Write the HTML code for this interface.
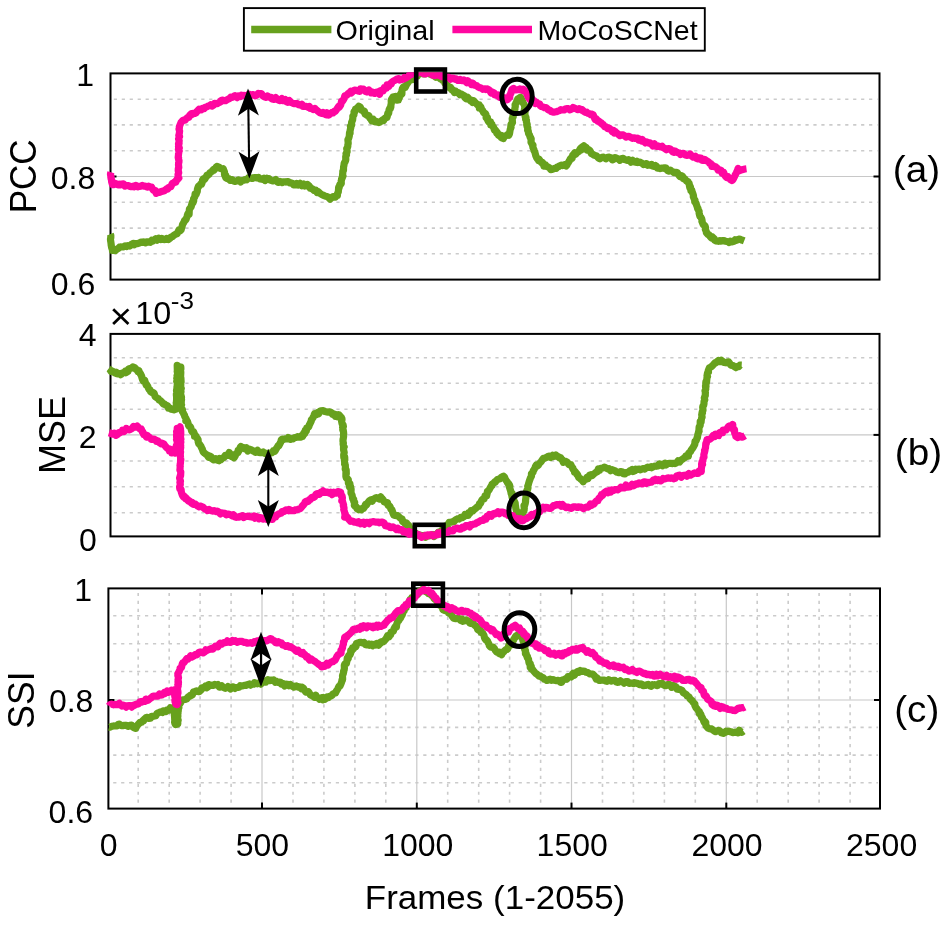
<!DOCTYPE html>
<html><head><meta charset="utf-8"><title>PCC / MSE / SSI plot</title>
<style>
html,body{margin:0;padding:0;background:#fff;}
svg{display:block;}
text{font-family:"Liberation Sans",Arial,sans-serif;fill:#000;}
</style></head>
<body>
<svg width="944" height="925" viewBox="0 0 944 925">
<rect x="0" y="0" width="944" height="925" fill="#fff"/>
<line x1="113.8" y1="99.2" x2="877.5" y2="99.2" stroke="#cbcbcb" stroke-width="1.6" stroke-dasharray="3.2 4.75"/>
<line x1="113.8" y1="124.9" x2="877.5" y2="124.9" stroke="#cbcbcb" stroke-width="1.6" stroke-dasharray="3.2 4.75"/>
<line x1="113.8" y1="150.7" x2="877.5" y2="150.7" stroke="#cbcbcb" stroke-width="1.6" stroke-dasharray="3.2 4.75"/>
<line x1="113.8" y1="202.3" x2="877.5" y2="202.3" stroke="#cbcbcb" stroke-width="1.6" stroke-dasharray="3.2 4.75"/>
<line x1="113.8" y1="228.1" x2="877.5" y2="228.1" stroke="#cbcbcb" stroke-width="1.6" stroke-dasharray="3.2 4.75"/>
<line x1="113.8" y1="253.8" x2="877.5" y2="253.8" stroke="#cbcbcb" stroke-width="1.6" stroke-dasharray="3.2 4.75"/>
<line x1="110.5" y1="176.5" x2="879.5" y2="176.5" stroke="#c8c8c8" stroke-width="1.2"/>
<line x1="113.8" y1="357.7" x2="877.5" y2="357.7" stroke="#cbcbcb" stroke-width="1.6" stroke-dasharray="3.2 4.75"/>
<line x1="113.8" y1="383.3" x2="877.5" y2="383.3" stroke="#cbcbcb" stroke-width="1.6" stroke-dasharray="3.2 4.75"/>
<line x1="113.8" y1="409.3" x2="877.5" y2="409.3" stroke="#cbcbcb" stroke-width="1.6" stroke-dasharray="3.2 4.75"/>
<line x1="113.8" y1="461.0" x2="877.5" y2="461.0" stroke="#cbcbcb" stroke-width="1.6" stroke-dasharray="3.2 4.75"/>
<line x1="113.8" y1="486.8" x2="877.5" y2="486.8" stroke="#cbcbcb" stroke-width="1.6" stroke-dasharray="3.2 4.75"/>
<line x1="113.8" y1="512.8" x2="877.5" y2="512.8" stroke="#cbcbcb" stroke-width="1.6" stroke-dasharray="3.2 4.75"/>
<line x1="110.5" y1="434.9" x2="879.5" y2="434.9" stroke="#c8c8c8" stroke-width="1.2"/>
<line x1="113.2" y1="615.8" x2="878.0" y2="615.8" stroke="#cbcbcb" stroke-width="1.6" stroke-dasharray="3.2 4.75"/>
<line x1="113.2" y1="643.7" x2="878.0" y2="643.7" stroke="#cbcbcb" stroke-width="1.6" stroke-dasharray="3.2 4.75"/>
<line x1="113.2" y1="671.5" x2="878.0" y2="671.5" stroke="#cbcbcb" stroke-width="1.6" stroke-dasharray="3.2 4.75"/>
<line x1="113.2" y1="727.4" x2="878.0" y2="727.4" stroke="#cbcbcb" stroke-width="1.6" stroke-dasharray="3.2 4.75"/>
<line x1="113.2" y1="755.1" x2="878.0" y2="755.1" stroke="#cbcbcb" stroke-width="1.6" stroke-dasharray="3.2 4.75"/>
<line x1="113.2" y1="782.8" x2="878.0" y2="782.8" stroke="#cbcbcb" stroke-width="1.6" stroke-dasharray="3.2 4.75"/>
<line x1="138.2" y1="592.9" x2="138.2" y2="803.6" stroke="#cbcbcb" stroke-width="1.6" stroke-dasharray="3.2 4.75"/>
<line x1="169.2" y1="592.9" x2="169.2" y2="803.6" stroke="#cbcbcb" stroke-width="1.6" stroke-dasharray="3.2 4.75"/>
<line x1="200.1" y1="592.9" x2="200.1" y2="803.6" stroke="#cbcbcb" stroke-width="1.6" stroke-dasharray="3.2 4.75"/>
<line x1="231.1" y1="592.9" x2="231.1" y2="803.6" stroke="#cbcbcb" stroke-width="1.6" stroke-dasharray="3.2 4.75"/>
<line x1="262.0" y1="588.4" x2="262.0" y2="808.6" stroke="#c8c8c8" stroke-width="1.2"/>
<line x1="293.0" y1="592.9" x2="293.0" y2="803.6" stroke="#cbcbcb" stroke-width="1.6" stroke-dasharray="3.2 4.75"/>
<line x1="323.9" y1="592.9" x2="323.9" y2="803.6" stroke="#cbcbcb" stroke-width="1.6" stroke-dasharray="3.2 4.75"/>
<line x1="354.9" y1="592.9" x2="354.9" y2="803.6" stroke="#cbcbcb" stroke-width="1.6" stroke-dasharray="3.2 4.75"/>
<line x1="385.8" y1="592.9" x2="385.8" y2="803.6" stroke="#cbcbcb" stroke-width="1.6" stroke-dasharray="3.2 4.75"/>
<line x1="416.8" y1="588.4" x2="416.8" y2="808.6" stroke="#c8c8c8" stroke-width="1.2"/>
<line x1="447.7" y1="592.9" x2="447.7" y2="803.6" stroke="#cbcbcb" stroke-width="1.6" stroke-dasharray="3.2 4.75"/>
<line x1="478.7" y1="592.9" x2="478.7" y2="803.6" stroke="#cbcbcb" stroke-width="1.6" stroke-dasharray="3.2 4.75"/>
<line x1="509.6" y1="592.9" x2="509.6" y2="803.6" stroke="#cbcbcb" stroke-width="1.6" stroke-dasharray="3.2 4.75"/>
<line x1="540.6" y1="592.9" x2="540.6" y2="803.6" stroke="#cbcbcb" stroke-width="1.6" stroke-dasharray="3.2 4.75"/>
<line x1="571.5" y1="588.4" x2="571.5" y2="808.6" stroke="#c8c8c8" stroke-width="1.2"/>
<line x1="602.5" y1="592.9" x2="602.5" y2="803.6" stroke="#cbcbcb" stroke-width="1.6" stroke-dasharray="3.2 4.75"/>
<line x1="633.4" y1="592.9" x2="633.4" y2="803.6" stroke="#cbcbcb" stroke-width="1.6" stroke-dasharray="3.2 4.75"/>
<line x1="664.4" y1="592.9" x2="664.4" y2="803.6" stroke="#cbcbcb" stroke-width="1.6" stroke-dasharray="3.2 4.75"/>
<line x1="695.3" y1="592.9" x2="695.3" y2="803.6" stroke="#cbcbcb" stroke-width="1.6" stroke-dasharray="3.2 4.75"/>
<line x1="726.3" y1="588.4" x2="726.3" y2="808.6" stroke="#c8c8c8" stroke-width="1.2"/>
<line x1="757.2" y1="592.9" x2="757.2" y2="803.6" stroke="#cbcbcb" stroke-width="1.6" stroke-dasharray="3.2 4.75"/>
<line x1="788.2" y1="592.9" x2="788.2" y2="803.6" stroke="#cbcbcb" stroke-width="1.6" stroke-dasharray="3.2 4.75"/>
<line x1="819.1" y1="592.9" x2="819.1" y2="803.6" stroke="#cbcbcb" stroke-width="1.6" stroke-dasharray="3.2 4.75"/>
<line x1="850.1" y1="592.9" x2="850.1" y2="803.6" stroke="#cbcbcb" stroke-width="1.6" stroke-dasharray="3.2 4.75"/>
<line x1="108.4" y1="700.0" x2="880.0" y2="700.0" stroke="#c8c8c8" stroke-width="1.2"/>
<rect x="110.5" y="73.4" width="769.0" height="206.2" fill="none" stroke="#000" stroke-width="2"/>
<line x1="110.5" y1="176.5" x2="116.5" y2="176.5" stroke="#000" stroke-width="2"/>
<line x1="873.5" y1="176.5" x2="879.5" y2="176.5" stroke="#000" stroke-width="2"/>
<rect x="110.5" y="333.9" width="769.0" height="202.5" fill="none" stroke="#000" stroke-width="2"/>
<line x1="110.5" y1="434.9" x2="116.5" y2="434.9" stroke="#000" stroke-width="2"/>
<line x1="873.5" y1="434.9" x2="879.5" y2="434.9" stroke="#000" stroke-width="2"/>
<rect x="108.4" y="588.4" width="771.6" height="220.2" fill="none" stroke="#000" stroke-width="2"/>
<line x1="108.4" y1="700.0" x2="114.4" y2="700.0" stroke="#000" stroke-width="2"/>
<line x1="874.0" y1="700.0" x2="880.0" y2="700.0" stroke="#000" stroke-width="2"/>
<line x1="262.0" y1="808.6" x2="262.0" y2="802.6" stroke="#000" stroke-width="2"/>
<line x1="262.0" y1="588.4" x2="262.0" y2="594.4" stroke="#000" stroke-width="2"/>
<line x1="416.8" y1="808.6" x2="416.8" y2="802.6" stroke="#000" stroke-width="2"/>
<line x1="416.8" y1="588.4" x2="416.8" y2="594.4" stroke="#000" stroke-width="2"/>
<line x1="571.5" y1="808.6" x2="571.5" y2="802.6" stroke="#000" stroke-width="2"/>
<line x1="571.5" y1="588.4" x2="571.5" y2="594.4" stroke="#000" stroke-width="2"/>
<line x1="726.3" y1="808.6" x2="726.3" y2="802.6" stroke="#000" stroke-width="2"/>
<line x1="726.3" y1="588.4" x2="726.3" y2="594.4" stroke="#000" stroke-width="2"/>
<defs><clipPath id="ca"><rect x="106.5" y="72.2" width="777.0" height="209.4"/></clipPath><clipPath id="cb"><rect x="106.5" y="331.9" width="777.0" height="212.5"/></clipPath><clipPath id="cc"><rect x="104.4" y="586.0" width="779.6" height="224.6"/></clipPath></defs>
<g clip-path="url(#ca)"><path d="M110.3 234.1L110.8 235.3L110.8 237.6L110.4 239.4L110.6 240.6L110.7 241.2L111.2 244.6L111.1 244.5L111.7 247.8L111.8 247.8L112.4 248.4L112.4 250.5L113.9 249.2L115.4 250.5L116.6 249.4L118.4 248.4L119.7 247.1L120.5 246.9L122.5 247.0L123.4 246.9L125.1 245.8L127.0 246.5L128.0 245.7L129.8 246.1L131.6 244.2L133.4 243.4L134.4 244.7L135.6 243.6L137.1 243.7L139.4 243.1L141.0 242.0L142.4 242.3L143.8 241.8L145.7 242.9L146.8 241.9L147.9 241.8L150.1 242.4L151.8 240.3L152.9 241.0L154.1 240.0L155.8 238.8L157.2 240.1L158.9 238.3L160.7 239.6L161.9 238.5L164.0 239.6L165.8 239.5L166.8 238.4L168.4 239.6L170.6 237.7L170.9 237.0L172.2 236.8L173.7 235.4L174.3 234.9L175.6 234.3L177.2 233.6L177.8 232.4L178.9 229.9L180.1 230.8L181.1 229.9L181.6 227.8L182.0 227.1L182.6 224.3L183.4 223.2L184.2 221.6L184.5 220.6L185.3 219.8L185.9 219.8L187.1 216.4L187.3 215.5L188.0 213.5L189.1 214.3L189.2 211.5L189.4 209.1L190.3 208.0L191.3 206.3L191.0 207.0L192.0 203.5L192.5 201.8L192.9 202.9L193.7 200.8L193.6 198.5L193.9 198.2L194.8 196.8L195.1 194.0L196.0 194.6L196.7 192.8L197.3 191.3L197.4 189.4L198.2 186.8L198.5 186.1L199.4 185.8L200.8 183.9L201.6 184.1L202.5 181.3L202.6 179.8L203.5 178.6L204.8 179.2L205.9 177.0L206.6 176.6L206.9 175.1L208.9 174.5L209.9 172.7L210.5 172.5L211.8 171.5L213.6 169.5L214.2 170.0L216.1 167.2L217.0 166.4L219.4 167.3L219.8 168.2L221.8 168.7L222.3 169.3L223.2 168.7L224.5 172.0L224.5 174.3L224.9 175.8L225.8 175.6L225.6 177.5L227.2 178.7L228.8 178.7L230.2 180.4L232.0 179.6L233.8 181.1L235.2 181.5L236.8 180.9L238.4 180.0L239.8 180.8L240.7 181.9L242.2 180.5L244.1 180.2L245.0 179.6L246.6 179.8L247.5 178.8L248.9 177.5L251.0 178.0L252.4 178.5L254.3 177.6L255.5 177.6L257.0 178.0L258.5 177.5L260.1 179.0L262.0 179.3L263.8 178.2L265.1 180.5L266.8 178.4L267.5 179.1L268.9 178.6L270.4 180.1L272.7 181.0L273.6 180.8L275.7 179.6L277.4 182.1L278.3 182.4L280.0 181.4L282.2 182.6L282.9 181.8L284.8 181.8L286.0 182.1L288.1 181.6L289.5 182.8L290.5 182.8L292.7 183.4L293.6 184.9L295.9 185.0L296.8 183.4L298.3 184.9L300.1 183.4L301.8 185.6L303.7 184.1L304.6 186.0L306.6 185.6L307.5 184.6L309.5 186.3L310.3 188.3L312.2 188.7L313.1 189.5L314.2 190.5L315.8 190.1L317.1 192.6L317.9 191.5L319.4 192.8L320.1 193.5L321.4 194.3L323.0 195.2L324.8 195.9L325.8 196.2L327.0 196.5L328.2 197.2L330.0 199.2L330.9 198.3L333.0 196.7L334.3 196.8L335.3 197.2L336.6 195.6L337.4 195.5L337.5 193.7L338.3 191.8L338.5 189.6L338.6 187.6L339.1 187.8L339.7 184.9L340.0 185.3L341.3 183.4L341.2 180.9L341.5 180.1L341.6 178.6L342.0 178.5L343.0 176.0L342.5 175.7L342.8 172.6L342.8 171.3L343.5 170.2L343.5 168.7L343.6 166.7L343.9 165.6L344.2 163.2L344.7 162.3L345.2 161.6L345.6 160.5L345.8 159.6L345.7 156.7L346.5 154.8L346.4 154.7L346.0 153.7L347.1 151.7L347.1 150.8L346.7 148.6L347.3 147.9L347.8 146.4L347.8 145.2L348.2 143.2L347.9 140.0L348.0 139.4L348.3 139.2L349.0 137.3L349.3 136.0L349.5 132.8L350.1 133.3L350.0 131.3L350.5 128.7L350.8 127.7L350.4 126.3L351.3 124.7L351.6 125.3L351.6 122.3L351.9 121.7L352.6 120.0L352.9 117.2L352.8 116.2L353.9 114.8L354.1 112.6L354.0 111.8L355.1 111.5L355.5 109.0L357.1 108.3L358.8 106.2L360.4 107.3L361.6 110.1L361.8 109.7L363.8 111.9L364.4 111.3L365.1 114.2L366.1 114.4L367.0 115.4L368.8 115.6L369.6 117.7L371.0 119.2L371.7 120.7L373.3 119.3L374.1 121.5L375.9 122.0L377.2 121.7L378.9 122.6L380.1 122.0L382.5 120.0L383.6 120.6L384.6 118.6L385.1 118.0L386.9 117.6L387.3 116.2L387.7 113.7L388.0 114.3L388.7 113.0L389.1 109.8L389.9 108.1L390.3 108.6L390.9 106.8L390.8 105.7L391.3 103.3L391.2 100.6L391.3 100.3L391.5 99.4L392.9 97.1L395.4 96.5L396.0 98.1L396.8 100.2L398.5 100.0L398.7 98.8L399.2 97.7L399.4 95.7L400.0 96.4L400.9 93.2L401.9 93.8L402.0 90.2L402.4 88.7L403.1 87.3L404.0 86.6L405.3 87.2L406.4 84.8L407.0 84.0L408.2 82.2L409.1 80.8L411.3 79.1L412.4 79.6L414.3 77.8L414.7 76.7L415.8 76.2L417.4 76.1L418.4 72.9L418.5 73.5L420.9 72.9L422.1 71.6L423.4 74.0L425.3 73.8L427.0 72.2L427.6 71.9L429.4 73.8L431.3 74.5L432.4 75.1L433.6 75.1L434.5 76.2L436.0 77.3L437.7 76.4L438.4 77.0L440.2 78.8L440.9 77.9L442.3 80.3L443.1 80.4L444.3 81.0L444.9 83.2L446.5 84.8L447.4 85.4L447.9 85.8L449.9 88.0L450.4 87.2L451.8 89.9L452.9 89.8L454.4 92.5L455.3 90.9L456.8 92.6L458.5 92.7L459.9 94.7L461.0 94.0L462.8 95.0L464.1 95.5L464.8 97.5L466.2 98.7L467.8 97.4L468.8 98.7L470.5 100.9L471.3 100.2L472.6 102.4L473.8 100.8L475.0 102.4L477.1 104.4L478.2 105.5L479.3 105.0L479.3 107.9L480.8 106.8L481.5 108.9L482.1 110.1L482.7 110.5L483.6 112.7L485.2 113.3L486.0 114.8L486.1 117.6L487.4 117.8L487.3 119.2L488.4 121.6L489.0 121.4L490.5 121.7L490.8 125.0L491.9 124.2L491.9 125.5L493.6 127.3L494.4 130.1L494.9 129.6L496.5 131.6L496.7 133.0L497.7 132.9L498.4 135.3L500.2 136.1L501.2 135.6L501.4 137.9L503.5 138.5L504.3 136.0L505.7 136.0L507.6 134.5L508.8 135.3L509.5 133.8L509.9 131.1L510.2 129.6L511.0 127.4L510.7 127.7L511.0 124.5L511.1 124.3L511.7 123.9L512.5 122.5L512.2 118.7L512.3 118.3L513.2 116.7L513.0 115.2L513.7 114.5L514.2 113.5L514.4 110.3L514.9 109.4L514.9 108.2L515.3 106.4L515.1 105.1L515.3 105.4L516.1 102.5L516.7 102.6L517.7 99.0L518.8 98.4L520.5 97.2L521.5 99.3L522.5 101.2L522.3 101.2L523.0 102.6L524.5 105.2L524.6 106.2L524.8 107.8L524.3 110.2L525.2 109.9L525.0 112.7L524.8 113.6L524.9 114.6L525.3 117.1L526.0 117.5L525.6 119.3L526.5 120.4L526.4 121.9L527.2 124.3L526.7 124.6L527.3 127.2L527.8 127.5L527.6 130.5L528.2 130.8L528.6 133.8L529.0 134.2L529.5 135.1L530.4 138.0L530.4 137.2L531.2 138.8L531.0 142.2L531.9 143.6L532.4 145.4L533.0 145.1L532.9 147.5L534.0 149.8L533.9 150.5L534.6 151.5L534.9 152.3L535.7 155.4L535.7 155.6L536.9 158.2L536.7 157.4L538.5 160.6L539.0 159.2L540.4 161.1L541.4 162.7L542.3 162.4L543.3 163.6L543.9 166.2L545.7 165.1L546.4 166.4L548.0 167.0L548.9 167.3L550.9 169.7L551.5 169.5L553.6 168.8L555.0 168.1L556.2 168.3L557.6 166.7L558.7 166.5L560.1 165.7L561.5 165.1L562.5 165.6L564.4 164.6L566.1 166.0L567.2 164.5L567.9 163.0L568.4 162.5L569.1 161.3L570.3 159.0L571.2 157.8L572.1 158.3L572.7 155.1L573.4 154.7L574.7 152.8L575.7 154.1L576.8 152.8L577.4 152.3L578.8 151.4L580.4 148.5L581.5 149.6L581.9 147.2L583.8 145.8L585.1 146.9L586.2 147.3L587.0 150.1L587.9 149.2L589.3 150.1L590.0 150.6L591.3 153.5L593.0 154.4L593.6 155.0L594.7 155.3L596.4 155.9L597.8 157.3L598.9 158.3L599.9 158.8L601.9 157.4L603.6 157.2L605.2 158.2L606.0 158.8L607.6 157.4L609.4 157.2L611.0 157.9L612.3 159.9L613.8 159.2L615.1 157.6L616.3 158.1L618.5 159.0L619.9 160.3L621.1 158.7L623.2 158.3L623.9 159.4L625.4 159.6L626.9 160.4L628.7 159.7L630.1 160.6L631.0 162.1L632.5 160.3L633.8 161.8L636.0 162.4L636.9 161.3L637.9 162.6L639.8 162.2L641.3 162.8L643.0 163.9L643.7 164.6L644.9 164.0L646.6 163.6L647.7 165.3L649.0 165.1L651.4 164.4L652.0 165.9L653.7 166.4L655.4 165.5L656.3 166.2L657.4 168.1L659.6 168.0L660.2 168.6L662.4 168.0L663.8 168.3L664.6 167.8L666.0 168.1L667.4 170.4L669.1 171.2L670.4 170.2L671.6 171.1L673.2 171.9L674.0 172.7L676.0 172.3L677.3 172.5L677.9 173.8L679.8 176.4L681.1 175.6L682.6 176.3L683.2 178.6L684.8 178.9L685.9 180.5L686.8 181.0L688.2 181.9L688.5 183.0L689.2 183.3L689.4 185.6L689.8 187.7L690.4 186.8L690.9 190.6L691.7 190.0L691.9 191.1L693.0 194.0L693.5 195.7L693.3 196.7L694.1 198.7L695.0 200.3L694.7 201.7L696.0 203.3L695.6 202.7L696.1 203.7L697.3 207.1L697.6 208.5L698.0 208.5L698.0 209.4L699.1 211.1L699.1 213.0L699.3 214.0L700.0 216.6L700.6 216.9L701.7 218.8L702.1 220.5L701.9 221.4L702.9 223.7L703.4 224.9L704.1 225.1L705.1 226.1L705.6 227.7L705.3 229.2L706.7 232.6L706.5 232.8L708.1 234.6L709.0 234.8L710.3 236.7L711.4 238.0L712.6 237.1L714.2 238.8L714.7 240.2L716.2 240.9L718.4 241.3L719.9 240.6L721.2 241.1L723.3 240.6L724.8 240.9L725.6 241.3L727.9 241.7L728.9 242.5L730.3 241.2L732.2 241.8L734.0 241.3L735.1 239.7L736.5 240.3L738.6 239.2L739.5 239.0L741.6 240.0L742.4 240.2L744.2 240.9" fill="none" stroke="#67a11d" stroke-width="7.2" stroke-linejoin="round" stroke-linecap="butt"/><path d="M110.9 172.3L110.4 174.1L111.1 177.0L110.8 176.8L111.1 178.8L111.6 180.0L111.6 181.6L112.5 184.6L113.9 184.7L115.4 183.5L117.9 184.8L119.2 184.1L120.2 184.9L121.6 184.1L123.5 183.9L125.0 186.1L126.9 185.5L128.4 185.6L129.4 186.2L131.3 186.7L133.3 186.1L134.5 186.8L135.9 185.4L137.8 186.9L139.4 186.4L141.0 186.2L142.3 185.5L143.6 186.2L144.9 186.0L147.1 187.1L148.5 186.2L149.9 187.0L151.6 187.2L152.9 189.7L153.5 190.2L155.3 190.6L156.2 193.3L157.4 191.9L159.3 192.3L161.8 191.3L162.7 191.2L164.3 190.8L165.4 189.8L166.9 188.7L167.7 189.0L168.6 187.6L170.0 187.0L170.9 186.6L172.3 183.3L173.3 183.2L174.2 182.3L175.8 182.1L176.5 179.8L177.2 179.8L178.8 178.1L178.0 177.4L178.2 174.5L178.0 174.5L178.7 172.7L178.4 171.2L178.2 170.8L178.3 168.6L178.8 167.6L178.5 164.9L178.6 163.0L178.9 162.2L179.0 160.6L178.5 159.2L178.6 157.6L178.2 157.6L178.5 154.9L178.5 154.1L178.7 153.2L178.9 151.0L179.2 150.9L178.4 149.4L179.3 147.9L178.5 146.6L179.1 143.0L178.5 144.1L179.2 140.8L178.6 139.1L178.8 139.3L179.0 136.3L179.6 136.5L178.8 135.4L179.3 133.6L179.4 132.5L179.6 131.0L179.0 129.1L179.4 127.9L179.3 126.8L180.4 124.0L181.0 122.5L182.2 121.2L183.0 120.2L184.0 120.0L185.2 120.1L185.8 119.1L187.5 117.5L188.9 117.4L189.7 115.4L191.5 113.6L192.4 114.2L192.9 113.3L194.9 113.5L195.9 112.9L197.4 111.0L199.1 109.2L200.3 110.0L201.2 110.0L202.6 108.3L204.1 108.6L205.1 107.2L206.6 107.0L208.4 105.9L209.7 105.6L210.7 104.8L212.0 106.1L213.5 105.2L214.5 103.4L215.8 103.6L217.5 103.6L218.2 103.0L220.4 102.0L220.8 100.9L222.1 100.1L224.4 100.7L225.5 100.7L227.0 99.7L228.1 99.2L229.5 98.7L230.8 97.2L232.3 97.5L234.0 96.2L234.9 95.7L237.1 97.7L238.5 96.0L240.2 96.7L241.5 95.2L242.8 95.5L244.4 95.4L246.2 96.5L247.2 95.4L248.7 94.1L251.1 95.2L252.7 94.7L253.3 94.5L255.5 95.8L257.5 94.5L258.4 93.4L260.3 94.0L261.4 93.7L262.9 95.8L264.6 96.8L266.0 97.3L267.5 95.9L269.5 97.2L271.1 97.3L271.9 99.0L274.2 99.4L275.7 97.6L277.2 99.4L278.6 100.2L279.9 100.7L281.9 98.6L282.7 100.6L285.1 99.5L286.2 101.6L287.6 102.3L289.4 100.6L290.9 102.4L292.5 103.0L293.7 103.7L295.5 103.7L297.3 103.5L298.6 104.8L300.8 105.2L301.9 104.3L302.9 106.5L305.2 106.5L306.3 106.3L308.3 107.4L309.3 106.5L310.4 108.5L311.7 108.5L313.2 109.5L314.8 108.4L315.3 108.9L317.1 110.4L318.9 111.9L319.5 112.5L321.7 113.3L322.9 112.4L324.6 114.1L325.9 114.7L327.0 112.8L328.7 115.0L329.7 114.3L331.9 112.4L333.1 112.9L334.4 111.1L335.1 111.4L336.6 109.5L336.9 109.2L338.5 106.5L339.3 107.1L340.6 105.0L341.0 103.8L341.5 101.4L342.4 101.4L343.4 99.8L344.2 98.3L344.8 95.7L346.5 95.3L346.8 95.2L348.6 93.1L349.6 92.8L350.7 91.2L351.3 93.0L353.4 90.9L354.6 90.1L356.4 90.3L358.1 91.0L359.5 91.4L360.5 88.8L362.0 89.0L363.4 89.0L365.4 91.4L366.9 92.0L368.9 90.0L370.1 91.2L371.1 92.9L372.8 92.2L374.7 93.4L376.2 92.2L377.5 91.9L379.6 94.3L380.0 90.7L381.2 90.5L383.1 90.9L384.3 87.6L385.4 88.2L386.5 88.1L387.1 85.0L389.0 86.1L390.2 83.6L391.3 83.9L392.0 82.1L393.4 81.0L394.9 80.4L395.9 79.7L397.6 78.8L398.9 78.6L399.7 80.0L401.5 79.6L403.7 79.0L404.4 77.4L405.9 77.9L408.2 76.5L409.3 75.1L411.1 74.7L412.3 73.5L413.2 72.9L415.1 73.8L415.9 74.3L417.4 72.7L418.6 72.0L420.9 72.2L421.8 72.6L423.5 73.7L424.9 74.0L426.4 73.8L428.6 72.0L430.0 72.2L431.2 72.5L432.7 75.1L434.8 75.5L435.2 74.4L437.5 74.3L438.7 75.4L440.4 75.2L441.6 76.6L442.5 76.0L444.8 77.6L445.7 77.6L448.1 77.3L449.3 77.3L450.5 79.2L452.4 78.0L453.2 78.0L455.2 79.4L456.2 78.9L458.0 80.5L459.6 80.5L460.4 79.5L462.4 80.7L463.8 80.0L465.3 81.1L466.7 82.7L467.8 80.8L469.5 82.6L470.8 82.5L471.4 84.5L472.9 83.3L474.2 85.0L475.1 85.3L476.8 85.8L477.8 86.8L479.8 87.8L480.6 87.9L482.0 88.5L482.9 89.3L485.2 88.9L486.0 89.6L487.4 88.9L489.2 90.1L489.7 90.4L491.0 93.0L492.1 91.9L494.1 92.9L494.7 94.8L496.6 95.4L498.0 94.9L499.5 97.1L499.9 96.2L501.7 97.9L502.8 97.5L504.6 97.8L506.6 99.9L507.8 99.4L509.1 96.9L509.7 97.5L509.9 94.8L510.9 93.4L510.9 92.8L511.8 89.6L513.7 88.4L515.6 90.0L517.6 89.7L519.3 89.4L520.0 88.9L522.5 90.3L523.2 89.3L524.6 90.3L525.5 90.7L526.4 93.0L526.7 93.7L528.3 97.1L529.0 98.3L530.2 99.9L531.7 98.5L532.8 100.0L534.2 100.9L535.4 103.4L536.8 102.5L538.0 103.7L539.7 104.1L540.4 105.9L541.5 106.5L543.7 107.1L544.4 107.7L546.0 107.7L546.9 108.4L548.4 109.9L549.8 110.2L551.2 111.5L553.7 112.2L554.9 112.0L556.1 111.8L557.9 111.1L559.6 110.6L560.9 109.6L562.3 110.0L564.0 110.0L565.2 109.1L567.6 108.5L568.9 108.9L570.1 109.9L571.7 109.1L573.1 107.5L575.4 108.6L576.1 108.7L578.0 109.7L579.2 108.6L581.7 110.1L582.2 109.7L583.7 111.3L585.3 112.4L586.8 112.2L588.1 113.5L589.4 113.5L590.8 114.7L592.1 114.2L593.2 114.9L594.3 117.5L595.1 119.5L596.4 119.0L597.8 121.2L598.7 121.0L599.8 122.2L601.2 122.6L602.0 124.2L603.2 124.5L604.7 126.7L605.6 126.5L606.4 127.0L607.6 128.6L609.2 128.2L610.9 129.5L612.1 131.5L613.6 130.5L614.3 133.1L615.2 131.5L617.1 133.3L618.8 134.7L620.0 135.7L621.5 134.8L623.2 134.9L624.5 135.8L626.0 137.1L627.9 136.4L628.8 136.4L630.7 137.2L632.4 138.4L634.4 137.8L635.4 138.5L637.5 138.2L638.4 139.9L639.3 139.1L641.5 140.9L642.3 139.6L644.1 141.6L645.3 142.9L646.7 141.9L647.3 142.1L649.0 143.1L650.0 142.8L651.7 144.4L652.8 145.9L654.4 143.9L655.5 146.3L656.9 146.5L658.2 145.9L660.6 147.0L662.0 146.3L663.3 147.7L664.7 148.3L666.2 149.7L667.6 148.7L668.4 148.6L670.4 149.0L671.0 149.7L672.7 151.9L674.1 152.4L674.8 150.9L676.9 152.2L678.1 152.8L679.1 152.8L680.6 154.6L682.6 153.3L684.0 153.6L685.2 155.0L687.3 155.4L688.7 155.0L690.0 154.0L692.3 156.6L693.2 157.2L695.3 156.2L696.6 158.4L697.9 158.9L699.0 157.9L700.9 158.0L701.8 160.2L703.4 160.5L704.5 159.4L705.9 160.3L707.8 161.5L708.6 161.9L709.8 163.5L710.9 163.6L711.8 166.4L713.3 165.7L714.4 166.6L715.7 166.8L717.4 168.4L718.1 170.1L719.3 169.8L721.3 170.4L722.1 173.2L723.7 172.5L724.5 174.9L725.7 176.5L726.8 177.5L728.1 176.8L729.0 177.8L730.2 179.4L731.9 180.5L732.9 179.8L733.7 178.1L734.6 176.3L734.9 175.7L735.3 174.7L736.3 172.9L737.4 170.6L738.1 168.5L739.8 170.5L741.8 169.9L743.1 169.4L744.9 169.0L746.5 168.8" fill="none" stroke="#ff06a0" stroke-width="7.2" stroke-linejoin="round" stroke-linecap="butt"/></g>
<g clip-path="url(#cb)"><path d="M108.6 368.6L109.9 369.6L111.1 371.4L112.5 371.2L114.5 372.7L115.9 373.4L116.4 372.3L117.7 373.8L119.7 373.5L120.8 374.7L122.5 373.0L124.0 372.6L125.1 371.4L125.9 372.7L127.9 371.5L128.6 368.9L130.2 368.4L131.8 368.0L132.9 367.0L134.7 367.6L136.0 369.5L137.0 369.6L137.9 371.6L138.9 370.7L140.2 374.0L140.4 373.4L141.7 376.2L141.6 376.6L142.4 379.3L143.3 381.0L144.6 380.2L145.3 382.3L146.1 384.8L146.4 384.2L147.8 386.4L148.5 388.4L149.3 389.9L150.2 390.0L150.6 391.8L151.9 392.4L153.4 392.6L154.2 393.5L155.1 396.6L155.8 397.1L157.7 398.4L158.4 398.5L159.0 400.0L160.6 400.7L161.6 401.7L163.4 404.0L164.2 403.8L165.9 405.2L167.7 405.9L168.4 408.2L169.6 407.9L171.2 409.2L172.9 409.6L173.9 409.9L176.6 408.9L176.8 408.4L176.2 405.6L176.5 404.0L176.2 402.8L176.4 402.4L176.6 399.5L176.6 399.0L176.6 396.8L176.4 395.0L177.3 395.5L176.4 394.0L177.4 392.2L176.5 390.6L176.9 388.4L177.0 386.5L177.5 386.7L177.2 386.0L177.3 382.9L176.9 381.1L176.7 381.4L177.6 378.7L176.9 378.2L177.6 377.5L177.0 375.7L177.7 374.2L177.2 371.3L177.7 370.3L177.3 369.5L177.3 368.8L177.2 365.3L179.1 366.8L180.8 367.0L180.9 369.1L180.5 369.3L180.2 370.2L180.7 371.1L180.8 372.7L180.6 376.2L180.2 375.2L180.6 377.0L180.9 378.0L181.1 381.6L181.1 381.9L180.6 383.9L180.8 384.7L180.7 386.2L181.0 388.6L181.3 388.3L180.7 390.4L181.0 391.6L180.6 392.3L180.8 394.7L181.5 397.3L181.4 398.9L181.5 399.4L181.4 399.4L181.3 402.2L180.9 403.5L181.6 404.7L181.3 405.6L181.0 408.6L180.7 408.2L182.4 409.4L182.3 411.4L183.2 412.7L183.8 414.1L184.5 415.2L184.6 416.2L186.0 418.6L185.8 420.7L186.6 420.0L187.6 421.8L188.2 423.8L188.5 425.2L189.1 426.3L190.2 426.5L190.8 427.8L191.7 431.1L192.6 432.1L193.6 431.8L194.7 434.7L194.6 436.3L195.7 435.8L197.0 438.2L197.4 438.5L198.1 439.6L198.2 441.8L198.7 443.7L199.6 444.3L200.8 446.0L201.6 447.9L202.3 449.1L203.0 451.3L203.4 452.1L204.7 453.3L206.2 454.5L206.7 454.5L208.5 457.1L209.6 455.9L211.0 456.6L212.5 459.0L213.5 459.9L215.6 458.7L216.7 459.8L218.9 460.7L219.5 458.4L220.9 459.6L222.4 458.1L224.0 457.6L225.2 455.3L226.8 455.5L227.8 455.4L229.2 452.4L230.0 453.6L231.6 456.4L233.3 455.0L234.1 457.9L235.4 455.5L236.1 453.7L237.3 453.0L238.2 452.3L238.2 450.3L239.2 450.5L240.4 447.0L240.9 446.5L242.5 447.6L243.7 447.6L244.6 448.7L246.3 447.8L247.8 450.9L248.8 449.0L251.0 449.6L252.1 450.5L253.6 451.0L255.4 452.3L257.5 450.2L258.6 452.4L260.5 452.7L261.9 452.7L263.2 452.0L265.3 453.7L267.1 453.3L268.1 453.6L270.2 453.1L271.7 452.8L272.9 451.9L273.5 450.6L275.0 451.2L276.4 448.5L277.3 447.1L278.3 445.5L278.7 446.0L280.0 443.5L280.9 441.8L281.3 439.8L282.3 439.0L284.3 439.3L286.1 438.5L287.6 438.9L288.3 437.5L290.3 439.4L291.7 438.5L293.2 438.8L294.4 437.8L296.8 437.2L297.6 436.6L299.0 437.2L301.1 437.1L301.6 435.7L302.7 436.2L303.6 433.2L304.5 433.9L305.3 430.3L306.3 431.1L306.7 427.9L307.4 427.7L308.8 426.7L309.5 424.4L309.6 424.5L310.6 422.4L311.3 420.9L311.3 419.9L312.0 419.2L313.0 417.6L313.9 415.7L314.5 413.8L316.3 414.6L317.7 412.6L318.7 413.6L319.8 411.3L320.9 410.8L323.3 410.6L325.0 411.5L326.4 411.9L328.2 412.1L329.6 411.9L331.1 412.4L332.4 414.4L333.8 413.9L335.2 416.3L336.3 414.8L337.8 416.8L338.8 414.7L340.6 416.7L341.3 417.4L341.9 418.6L342.0 419.7L341.6 421.3L342.1 423.8L343.0 424.5L343.4 426.4L342.6 427.3L343.3 430.6L342.8 429.7L343.5 431.7L343.7 433.8L343.4 434.8L343.6 436.5L343.2 439.0L343.0 440.0L343.0 441.2L343.4 443.2L343.1 443.8L343.5 446.1L344.1 446.8L343.5 447.2L343.5 449.1L343.6 449.9L344.2 452.5L343.7 454.8L343.7 455.1L343.8 457.3L344.7 457.2L344.8 460.1L344.4 460.3L344.8 463.2L344.6 464.1L345.3 465.0L345.4 467.6L345.2 469.0L345.5 470.2L346.2 470.1L346.3 473.7L345.9 472.6L345.9 476.5L346.2 477.7L346.8 478.6L347.2 478.5L348.3 479.7L348.4 483.2L349.2 484.5L349.9 483.6L349.6 486.9L350.5 486.3L350.8 488.2L351.1 489.3L351.0 493.0L351.6 494.1L351.8 494.5L352.2 495.7L352.5 497.8L352.9 499.3L353.6 499.1L353.8 501.5L354.7 502.5L354.3 505.5L355.4 506.3L355.1 506.3L356.2 506.8L357.1 508.8L358.7 509.8L359.8 509.2L361.2 509.8L362.2 508.4L363.5 508.4L364.8 506.5L365.5 504.4L366.6 504.9L367.9 502.5L369.3 500.9L371.3 499.7L372.3 501.1L373.2 499.4L375.1 498.2L376.6 497.6L379.0 499.0L380.7 496.8L381.9 498.4L383.2 499.9L384.2 501.9L385.2 502.2L387.5 502.5L388.0 505.1L388.3 505.4L389.6 506.0L390.3 507.3L390.9 509.1L391.8 509.6L392.5 511.5L392.9 512.9L393.7 515.0L395.2 515.4L396.6 515.6L397.7 515.7L399.8 517.6L400.7 518.5L402.1 518.9L402.6 521.5L404.0 522.2L405.4 524.0L406.6 523.0L407.2 526.2L408.8 525.5L409.3 527.0L410.4 528.5L412.2 530.1L413.1 530.0L414.2 533.5L415.8 533.2L416.8 535.2L418.3 534.6L419.8 535.5L421.2 535.4L422.7 536.0L424.3 535.4L425.7 537.2L427.1 535.9L429.4 535.8L430.6 535.4L432.7 534.7L434.1 536.4L435.2 534.6L437.3 534.3L438.4 532.1L439.9 532.2L441.3 530.8L442.0 530.6L443.5 528.6L444.1 528.0L445.7 525.9L446.8 526.1L447.7 524.9L449.1 522.4L451.1 522.2L452.2 521.7L454.1 521.7L454.6 520.5L456.4 519.4L458.2 518.5L459.3 519.0L460.7 517.4L462.1 517.7L463.7 516.9L464.9 514.5L466.6 515.3L468.1 515.3L468.6 512.9L469.8 513.5L471.0 510.6L472.9 510.9L473.4 510.2L475.3 508.7L475.8 508.3L477.1 506.9L478.7 506.4L479.5 503.5L479.9 503.3L480.5 503.4L481.7 500.4L482.6 499.2L484.1 498.9L484.7 497.4L485.0 495.8L486.6 495.8L487.3 493.0L487.4 491.2L488.5 490.7L489.2 489.7L490.1 488.1L491.1 486.3L491.9 485.9L492.0 484.2L493.5 483.4L494.5 482.0L495.2 482.2L496.1 480.8L497.6 479.4L498.3 479.2L499.9 478.8L501.2 477.4L503.5 476.1L504.6 477.3L505.2 478.7L506.4 480.9L507.1 481.8L507.8 483.4L508.3 483.3L509.3 484.6L509.9 486.2L509.5 487.4L510.7 491.0L510.8 491.7L511.2 493.8L512.1 493.3L511.9 496.1L512.3 497.9L512.9 497.8L513.7 499.4L514.0 500.4L514.8 502.2L515.2 503.2L515.5 506.8L515.5 505.7L515.9 508.7L516.2 509.9L516.5 511.1L518.0 512.3L518.8 512.7L519.8 514.0L520.7 517.6L521.6 515.1L521.8 513.4L523.1 512.5L524.1 510.1L523.9 510.7L524.3 508.4L524.0 505.9L524.4 506.4L525.3 503.2L525.6 501.2L525.5 502.2L525.5 500.7L526.0 496.9L526.0 496.5L526.1 495.8L526.3 494.5L526.6 491.1L527.2 489.7L527.5 490.0L528.0 487.7L527.7 486.3L528.2 485.2L528.6 483.5L529.2 481.5L529.9 479.4L529.8 479.9L530.3 478.2L531.5 476.0L531.4 473.7L532.8 472.5L533.0 472.3L533.3 470.8L534.0 469.7L535.0 468.0L535.3 466.8L536.3 465.0L537.3 465.9L538.5 464.9L539.0 463.9L540.4 462.4L541.5 461.1L542.1 460.2L543.4 458.4L544.6 458.2L546.5 457.4L548.2 456.3L549.3 456.2L550.8 457.5L552.5 455.4L553.5 456.6L555.8 455.0L556.9 456.5L558.3 456.5L559.4 457.8L560.6 457.6L561.8 459.6L562.4 459.7L563.3 462.3L565.1 461.2L566.2 461.6L567.4 462.3L568.9 464.7L570.9 464.7L571.1 465.2L572.2 467.5L572.9 468.1L573.1 469.3L574.5 471.0L574.5 472.1L575.5 471.9L576.9 474.5L577.5 474.4L578.7 477.6L579.9 478.2L581.0 479.5L581.9 479.7L583.2 481.7L584.4 479.7L585.7 479.5L586.8 477.6L588.0 478.5L588.4 477.8L589.5 475.3L590.9 474.6L592.1 475.5L593.6 474.1L594.6 473.4L596.2 472.2L597.6 471.7L598.3 468.9L599.8 470.0L600.8 468.4L602.5 468.1L603.1 467.7L604.5 467.1L606.8 468.4L608.0 468.9L609.2 468.7L610.6 470.7L612.3 469.7L613.2 470.1L615.2 470.8L616.6 472.1L617.4 472.0L618.8 472.7L620.3 471.5L622.6 472.1L623.2 473.7L625.0 474.0L626.2 472.6L628.2 472.2L629.7 470.9L630.9 470.4L632.1 469.6L633.1 471.6L634.8 470.8L636.0 469.2L637.3 469.4L639.5 469.1L640.4 469.9L642.4 468.9L642.9 468.5L644.7 469.1L646.0 468.0L647.7 467.0L649.0 467.5L650.9 466.7L651.7 467.7L652.8 467.1L654.9 466.1L656.1 466.3L658.0 466.0L659.3 463.9L660.3 464.0L662.4 465.8L663.0 464.8L664.9 463.2L666.1 464.9L667.8 463.5L669.4 463.4L670.7 463.3L672.6 463.6L674.0 463.3L675.0 463.6L676.9 462.6L678.0 460.8L679.6 461.9L681.2 459.9L681.9 459.7L684.0 458.1L685.2 457.4L685.8 456.0L686.7 455.7L688.4 456.1L688.6 453.2L690.3 451.8L690.6 451.3L691.4 449.7L692.3 448.6L693.4 447.0L693.2 447.3L694.0 445.7L694.8 444.2L695.0 441.2L696.1 440.7L696.4 439.9L697.2 437.5L697.4 437.8L697.8 434.7L698.3 433.2L698.7 431.2L699.1 431.1L698.9 430.6L699.1 427.4L699.2 426.7L700.2 425.6L700.2 424.5L700.2 421.7L701.1 422.0L701.3 419.8L701.7 417.6L702.1 417.1L701.7 414.7L702.4 413.1L702.0 413.0L702.6 410.7L703.0 410.2L702.7 407.3L702.9 406.0L703.6 405.7L704.0 403.5L704.0 402.0L704.1 401.3L704.8 399.8L704.3 397.9L705.0 396.0L705.3 395.6L705.3 393.9L705.4 392.6L705.0 390.7L705.8 389.0L705.5 386.1L706.0 386.6L705.8 383.5L705.9 381.8L706.5 382.6L706.8 379.5L707.0 377.3L707.5 376.5L707.0 375.9L707.4 373.5L707.7 372.5L708.5 372.0L708.3 370.6L709.3 367.9L710.8 367.0L711.5 366.5L712.3 365.9L713.2 364.9L714.8 363.0L715.4 363.2L716.7 362.0L718.5 360.4L720.1 361.6L721.4 360.3L722.7 361.3L723.7 362.5L725.9 362.8L727.2 362.0L728.6 361.8L729.4 362.9L730.8 365.2L732.4 365.5L733.4 365.8L734.8 366.9L735.9 367.7L737.6 366.4L738.7 366.6L740.0 365.1L741.7 365.2" fill="none" stroke="#67a11d" stroke-width="7.2" stroke-linejoin="round" stroke-linecap="butt"/><path d="M108.9 432.7L110.8 433.3L112.3 434.2L113.6 434.1L114.4 433.2L115.9 435.3L117.9 434.1L118.7 432.7L119.9 432.8L122.1 431.3L122.4 430.3L124.0 431.6L125.7 429.8L126.3 428.4L127.8 429.7L129.5 429.8L131.3 428.8L132.2 428.4L133.5 426.3L135.7 427.1L137.1 426.1L138.6 427.6L140.1 429.0L141.2 428.9L141.7 430.1L142.6 432.6L142.7 431.7L143.6 434.5L144.6 434.3L146.4 436.9L147.3 435.5L149.1 437.4L149.6 437.4L151.5 439.4L152.7 439.4L153.8 439.0L155.8 440.1L156.4 441.3L157.8 440.9L159.5 442.6L161.0 443.8L162.2 443.1L163.8 443.9L164.9 445.7L166.5 447.5L167.2 448.2L168.8 448.7L169.3 450.8L170.9 449.6L171.7 452.9L172.8 452.3L175.1 453.1L176.6 452.6L176.1 449.5L177.1 450.0L176.1 446.6L176.4 447.5L176.4 445.4L177.2 443.9L177.2 441.5L176.5 439.5L177.1 438.3L177.4 438.4L176.6 437.3L176.6 435.1L176.6 434.4L177.5 433.3L176.6 431.7L177.2 430.2L177.2 428.3L178.9 428.8L180.1 426.8L180.5 428.9L180.4 429.5L180.7 431.0L180.8 434.4L180.4 434.0L180.6 435.6L180.4 436.8L180.9 439.3L180.3 439.5L180.7 442.9L180.8 442.4L180.3 444.3L180.7 445.3L180.5 448.8L180.7 447.7L180.0 449.4L180.6 452.1L180.4 453.1L180.3 454.9L180.5 457.1L180.6 458.2L180.8 459.7L180.6 459.0L180.5 462.5L180.3 464.0L180.0 465.6L180.3 466.3L180.1 466.7L180.1 468.1L179.9 469.9L180.8 471.9L180.7 473.6L180.6 475.6L180.4 475.2L179.9 477.0L179.6 478.0L180.5 481.3L179.9 482.3L180.3 484.1L180.3 484.6L179.6 486.8L179.7 487.8L179.8 489.0L181.1 489.4L181.3 492.0L182.0 494.1L182.5 495.4L183.5 496.9L184.0 495.9L185.4 498.7L186.2 498.0L188.1 500.9L188.7 500.4L190.4 502.0L191.6 503.2L192.3 502.5L193.4 504.3L194.9 503.8L196.9 505.5L197.8 506.2L199.1 506.9L200.1 506.0L201.4 506.4L203.2 507.3L204.4 508.8L206.9 509.9L207.6 510.6L209.1 509.5L210.7 510.6L212.6 511.1L214.2 510.5L215.9 511.6L217.3 511.1L218.8 512.0L220.4 513.9L221.7 512.9L222.5 513.0L225.0 513.3L226.2 514.8L227.8 514.2L228.7 514.2L231.1 515.1L232.3 515.8L233.4 514.7L234.7 516.9L236.3 517.4L238.1 516.9L239.3 517.1L240.9 516.2L242.7 515.6L243.9 517.5L245.5 516.5L247.5 516.2L248.4 516.2L250.1 516.7L251.9 517.1L253.7 516.0L255.0 518.2L255.9 516.4L257.6 516.9L259.0 518.8L260.0 517.6L261.9 518.0L263.0 519.0L264.4 518.2L266.1 519.3L268.1 519.6L268.7 518.9L270.9 519.1L272.5 519.4L274.0 516.5L275.7 516.9L276.3 515.1L278.3 514.4L278.8 513.7L281.1 513.3L282.2 511.5L283.3 511.3L284.4 511.3L286.1 509.8L288.4 510.7L289.1 509.4L291.2 510.7L292.1 510.5L294.5 510.6L295.3 509.9L297.1 509.6L298.1 509.4L300.3 508.6L301.7 507.0L302.7 505.4L303.1 505.5L304.8 503.1L305.1 501.9L306.4 501.2L307.2 501.7L308.6 501.1L309.6 499.6L310.4 499.4L311.8 497.4L313.3 497.7L314.5 497.0L315.9 494.3L317.4 493.6L318.9 493.7L319.4 494.3L320.8 492.2L322.1 492.3L323.1 490.9L324.7 492.4L326.1 492.2L327.8 492.2L329.7 493.2L330.7 492.4L332.2 494.6L333.8 492.2L335.8 493.2L337.8 491.6L338.7 491.7L340.7 492.2L340.8 494.8L341.4 496.2L342.1 496.1L342.4 497.9L341.8 500.7L342.2 499.8L342.7 502.0L343.6 505.0L343.3 505.6L344.0 507.9L344.0 508.6L343.7 509.4L344.5 511.9L344.9 514.2L345.3 513.9L344.7 517.2L346.3 516.3L347.6 517.4L348.2 518.6L349.7 520.3L350.4 521.3L352.4 521.0L354.0 522.2L354.8 521.8L357.1 522.8L358.5 521.8L360.4 523.7L361.1 522.8L363.4 522.2L364.4 524.2L366.4 522.3L367.7 522.6L369.2 523.7L370.1 522.1L371.7 522.0L373.0 521.5L374.9 522.0L376.1 522.2L378.5 522.0L379.4 522.9L381.0 522.1L382.5 522.2L384.2 523.2L385.4 525.8L387.4 526.1L388.8 526.1L390.3 527.5L391.3 527.6L393.0 526.8L395.0 528.3L396.6 529.6L397.8 528.4L398.7 529.8L401.0 529.7L401.8 529.6L403.4 531.9L404.8 531.3L406.6 532.9L408.8 531.5L409.4 534.3L411.9 532.6L412.7 534.0L414.2 534.1L415.9 534.1L417.0 534.1L418.6 534.6L420.6 536.7L421.8 537.4L423.7 536.0L425.0 535.4L426.9 536.1L427.5 534.9L429.6 535.2L431.2 534.6L432.7 535.9L433.5 535.1L435.1 535.1L437.2 535.0L438.1 532.9L440.0 533.8L441.0 532.5L442.9 532.0L444.5 532.0L445.5 532.2L447.3 532.5L448.2 532.0L449.8 530.4L451.7 531.0L453.1 531.0L454.1 529.0L456.1 528.4L457.0 528.0L459.2 529.2L460.6 529.2L462.2 527.2L463.1 528.0L464.4 527.3L465.9 525.6L467.8 525.5L469.7 526.9L470.7 524.6L471.8 525.0L473.7 524.1L475.3 524.0L476.8 522.5L477.6 522.7L479.2 521.5L480.7 520.6L481.6 520.4L483.3 520.4L484.2 518.7L486.0 519.1L487.0 516.1L488.1 516.7L489.3 514.5L491.5 516.1L492.1 514.4L494.1 513.3L494.9 513.9L497.1 512.5L497.9 511.7L499.3 513.6L500.7 512.2L503.0 512.2L503.7 512.4L505.2 513.9L507.4 513.4L508.2 515.3L509.7 514.8L510.6 515.2L512.8 515.5L513.3 517.8L515.2 518.8L516.0 519.6L517.4 518.5L518.6 520.3L520.5 518.7L521.7 520.9L523.3 520.5L525.2 519.0L526.4 518.8L528.5 517.1L529.6 516.7L530.2 516.9L531.6 514.6L533.0 515.4L534.7 513.9L535.1 513.6L537.0 513.2L538.6 511.0L539.8 511.5L540.5 509.6L541.8 508.8L543.1 507.4L544.2 508.7L545.7 507.3L547.6 507.6L548.3 508.1L550.3 508.4L551.8 507.4L553.4 505.7L554.7 505.6L556.4 504.6L557.6 504.8L559.4 504.4L561.0 506.1L562.5 504.6L564.1 506.6L565.4 506.7L566.2 507.7L568.2 507.0L569.5 508.0L571.5 508.4L572.4 507.2L573.9 506.8L575.5 506.8L577.5 507.5L578.3 506.9L580.5 507.0L581.7 507.4L583.6 508.6L584.6 507.6L586.7 507.0L588.0 507.1L588.7 506.8L590.3 504.1L591.6 505.3L592.8 503.8L594.0 504.1L595.6 501.7L596.3 501.0L597.9 500.7L598.0 500.2L599.0 498.2L600.4 497.4L601.4 494.6L602.5 495.4L603.8 493.1L604.2 492.9L606.3 491.2L607.9 492.8L609.0 490.8L610.8 491.9L611.8 489.9L613.4 490.6L614.7 489.7L616.4 489.6L617.5 489.9L619.8 488.5L621.0 487.1L622.5 487.6L623.8 488.0L624.8 487.7L626.0 485.1L627.8 487.1L629.6 487.0L630.6 486.6L632.1 484.3L633.6 485.7L634.8 484.9L636.0 483.8L637.6 484.1L639.1 482.8L640.0 483.1L642.2 483.9L643.1 482.3L644.8 481.8L646.3 483.4L647.3 482.3L649.3 482.5L650.7 482.1L651.6 482.1L653.7 479.8L655.2 480.5L655.7 479.3L657.9 480.5L658.6 479.7L660.6 480.9L661.7 480.2L663.1 478.5L664.4 478.9L666.3 478.5L667.3 478.1L668.7 477.9L670.4 478.3L671.8 477.9L673.6 478.8L675.2 478.3L676.7 476.0L678.3 475.5L679.4 475.1L681.4 477.2L682.6 475.5L684.1 475.3L685.9 475.2L686.8 476.2L688.8 473.6L690.6 475.1L691.6 474.5L693.7 473.5L694.7 472.9L696.4 473.4L698.1 473.4L699.0 471.1L701.3 471.5L701.3 469.8L701.3 469.1L701.7 466.3L701.6 464.1L702.6 464.5L702.0 461.9L702.7 460.9L702.9 460.6L703.1 458.3L704.0 457.1L703.8 454.9L703.9 454.3L704.6 452.0L704.5 450.9L704.8 451.0L705.4 447.9L705.5 448.0L705.6 446.3L705.8 443.6L706.2 443.9L706.7 441.0L706.9 439.7L707.9 439.6L709.5 439.5L710.5 438.7L711.4 438.1L713.1 435.5L714.8 436.5L715.7 434.1L717.6 435.3L718.7 435.5L719.5 432.6L720.9 432.1L722.7 432.5L723.2 430.1L724.4 430.2L726.0 430.0L726.9 428.8L728.3 426.7L729.5 425.8L731.7 427.2L732.8 424.5L732.7 425.8L733.3 428.8L733.4 429.7L734.5 429.8L734.7 433.2L735.2 433.7L736.0 435.5L735.8 436.4L737.9 437.6L739.3 436.9L739.9 435.9L741.6 437.2L742.9 436.9L745.1 435.6" fill="none" stroke="#ff06a0" stroke-width="7.2" stroke-linejoin="round" stroke-linecap="butt"/></g>
<g clip-path="url(#cc)"><path d="M109.1 727.0L109.9 727.2L111.9 726.3L113.7 725.9L115.1 726.0L117.1 725.9L118.2 724.3L119.4 724.2L121.4 725.6L122.8 725.6L124.5 725.3L125.2 725.5L126.6 725.4L128.0 726.4L129.8 725.3L131.7 725.1L133.1 727.3L133.8 727.6L135.7 728.4L136.8 726.1L138.3 724.2L139.3 723.3L139.9 722.3L141.6 722.2L142.6 720.7L143.7 720.8L144.2 719.4L145.9 717.7L147.3 717.3L148.5 718.4L150.5 718.1L151.5 716.4L153.3 716.4L154.4 716.1L155.8 715.8L157.3 713.1L159.0 712.6L160.4 711.8L162.2 712.5L163.4 710.9L164.7 711.0L165.7 711.6L166.8 710.1L168.1 710.4L170.3 707.7L171.1 708.2L172.6 708.2L173.5 708.1L173.4 707.6L174.2 709.0L173.6 711.5L173.8 712.1L174.5 714.4L174.4 715.4L174.6 716.8L174.7 719.3L174.8 721.2L174.6 722.1L174.9 723.4L175.6 724.6L177.8 724.0L177.8 721.4L177.6 721.5L178.2 720.3L177.5 718.3L177.9 716.1L177.6 714.0L178.0 713.5L177.9 711.8L178.2 711.4L178.4 708.4L178.7 707.5L178.9 707.7L178.1 705.2L180.4 703.2L181.3 701.4L181.9 700.3L183.2 699.7L184.8 699.5L186.3 699.0L186.8 698.8L188.2 696.9L189.5 696.4L190.1 695.4L191.2 695.5L192.4 694.9L193.5 691.8L195.3 691.6L196.5 690.8L198.1 691.6L199.2 691.6L200.8 690.3L201.8 687.9L202.4 688.4L204.6 687.4L205.5 686.0L206.6 687.7L208.1 686.9L208.7 684.6L210.2 685.6L211.4 685.2L213.0 685.5L214.7 684.4L216.6 685.0L217.8 684.5L219.4 687.2L220.1 687.0L221.7 685.8L223.2 687.3L225.3 688.4L226.8 687.6L227.9 686.6L229.4 687.8L230.5 688.9L231.8 687.1L233.2 686.9L235.1 688.4L236.1 687.5L237.9 687.4L239.2 687.2L240.3 685.7L242.1 686.0L243.8 685.6L245.3 685.2L245.9 685.4L247.5 684.7L249.3 684.0L250.6 685.2L251.8 684.1L253.8 684.2L254.5 682.6L255.9 683.1L257.4 683.8L259.2 682.7L260.8 684.1L262.0 681.6L263.5 681.6L265.6 682.2L266.6 680.3L267.7 679.7L270.0 680.6L270.7 680.1L271.9 680.4L273.5 679.9L275.3 682.1L276.3 681.2L277.8 682.4L279.1 682.1L280.6 682.4L281.2 684.0L282.7 683.4L284.7 686.0L285.8 684.2L287.6 684.3L288.8 685.7L290.3 684.5L291.5 685.7L293.9 687.1L294.5 686.3L296.3 685.9L298.0 687.1L299.6 686.9L301.3 688.6L302.3 687.3L303.4 688.1L304.8 690.5L305.8 692.1L306.3 692.2L308.3 691.6L308.9 692.3L310.3 694.9L311.5 695.4L312.9 696.0L314.2 697.2L315.8 695.3L316.8 697.7L319.0 698.1L319.7 699.2L321.7 697.8L322.8 699.8L323.7 697.6L325.3 699.1L327.2 697.0L328.4 697.6L329.6 696.4L331.0 695.9L332.3 695.1L332.7 694.3L334.3 693.2L335.5 693.0L336.4 691.0L336.8 690.5L337.7 689.0L338.6 687.1L339.1 686.1L340.1 685.9L340.8 684.2L340.9 684.0L341.9 681.3L341.9 680.0L342.6 679.7L342.6 678.1L342.5 675.9L342.9 674.2L343.2 674.0L343.8 671.2L343.5 671.3L344.2 669.6L344.4 668.3L344.3 665.3L344.9 663.8L346.1 663.7L346.4 663.4L347.1 660.1L347.2 658.4L348.2 658.7L348.5 656.3L348.8 655.2L349.9 654.9L350.6 653.4L350.7 650.9L351.6 651.2L352.4 648.0L353.4 648.9L355.0 646.2L355.9 646.6L356.4 643.6L357.7 643.0L358.0 643.2L359.8 642.3L361.4 642.3L362.3 643.0L364.1 642.4L365.6 644.7L367.0 644.9L368.7 644.0L369.5 645.3L371.6 644.3L372.6 645.7L374.8 644.1L375.9 645.0L377.1 643.6L378.5 645.2L379.9 643.8L380.6 642.1L381.9 641.6L383.1 641.9L384.0 641.1L385.2 639.8L386.4 638.1L387.6 635.7L389.2 636.7L389.5 635.5L390.6 634.9L391.0 632.2L392.0 631.7L393.4 631.1L394.0 628.8L395.1 626.9L395.4 627.5L396.4 627.0L396.7 624.3L397.5 621.9L398.0 620.8L398.9 620.5L399.7 618.8L400.5 618.1L401.4 616.0L401.6 615.6L402.1 615.2L402.5 614.0L403.3 611.3L404.2 610.7L404.6 608.1L406.1 607.6L406.0 607.1L407.2 605.0L407.8 605.0L408.6 602.7L410.0 601.2L410.2 599.5L411.2 599.5L411.7 597.6L412.6 597.7L414.0 597.0L415.0 595.9L415.8 593.7L417.9 594.1L418.7 592.7L419.6 591.1L420.4 591.4L422.1 589.6L423.3 589.9L424.6 590.6L425.7 591.6L427.1 591.7L428.3 593.6L429.2 593.5L431.0 594.7L432.2 595.9L433.1 595.6L433.9 598.3L434.9 599.2L435.6 599.5L437.2 601.6L437.8 600.9L438.6 601.8L439.9 605.4L440.6 604.7L441.6 605.5L442.5 607.6L442.8 609.5L444.4 610.4L445.8 610.6L447.1 610.7L448.3 612.1L448.5 613.1L449.7 613.4L451.4 614.5L452.0 616.0L453.7 618.2L455.9 618.7L457.6 618.1L458.9 618.3L460.6 620.3L461.9 619.1L462.7 621.3L464.6 620.8L466.3 619.9L467.6 621.1L469.2 621.4L470.0 623.1L471.2 623.5L472.9 623.2L473.9 624.6L474.5 625.1L476.4 626.5L477.1 627.8L477.7 629.5L479.6 630.8L480.4 630.0L481.1 632.6L482.2 632.9L482.9 633.4L484.0 635.4L484.4 637.4L484.8 638.4L485.8 639.8L486.3 639.6L487.6 641.3L488.1 642.7L488.8 643.5L489.3 645.6L490.3 646.9L491.8 647.3L493.0 647.0L494.3 648.4L495.5 650.7L496.5 651.8L497.3 652.4L499.0 652.1L499.3 653.7L500.8 654.0L501.6 654.8L502.9 651.8L503.7 651.8L504.8 650.5L506.3 649.3L507.3 649.3L507.9 648.4L508.9 644.9L510.3 645.2L510.9 643.1L511.9 642.2L512.7 640.8L513.3 640.8L513.9 639.2L514.4 638.4L515.9 636.0L516.5 636.4L516.9 635.5L519.0 634.1L519.6 634.8L520.9 635.5L522.4 636.6L522.5 638.5L522.9 640.7L523.6 640.3L523.4 641.4L523.8 643.1L524.5 646.2L525.1 646.1L524.5 648.9L525.2 650.7L525.5 650.5L525.4 653.5L526.2 653.5L526.6 655.8L527.5 656.4L527.3 657.6L528.5 659.0L528.7 660.8L528.9 662.2L529.2 663.5L530.3 663.7L530.2 667.1L531.3 666.3L531.4 669.2L532.8 669.8L533.2 670.4L534.9 672.5L535.5 673.2L537.1 674.3L537.5 674.7L539.0 676.1L540.1 675.8L541.6 677.2L543.2 677.7L544.4 679.3L545.4 679.5L546.8 680.4L548.2 680.2L550.0 679.1L551.5 680.3L553.0 679.5L554.5 680.2L556.5 680.6L557.4 680.3L559.4 680.8L560.5 682.3L561.7 682.3L562.8 679.8L563.8 679.9L566.0 678.4L566.8 679.1L567.9 676.7L569.4 676.6L571.1 677.0L571.6 675.4L573.1 673.4L574.4 675.1L575.5 673.6L577.2 671.6L578.7 671.1L579.3 672.1L580.3 670.6L581.8 671.4L583.1 671.1L584.8 671.4L586.1 672.3L587.9 672.6L589.7 673.9L590.5 674.0L592.6 674.0L593.8 675.1L595.3 676.9L596.2 679.0L597.0 677.9L598.9 680.3L600.2 680.4L601.5 680.1L602.8 680.2L604.5 680.2L605.6 681.0L606.9 681.3L608.7 679.7L609.8 680.3L611.6 681.1L613.0 680.4L614.9 680.3L616.5 682.1L617.9 682.4L618.6 682.2L620.4 680.8L622.3 682.2L623.5 682.1L624.2 683.1L625.8 681.7L627.7 681.7L629.0 683.3L630.1 683.3L631.5 683.0L633.5 683.7L634.4 682.6L636.7 683.3L637.6 683.4L639.4 684.6L640.8 683.8L642.1 684.3L643.2 685.6L645.5 685.4L646.9 684.8L648.2 684.4L649.6 685.8L651.3 686.3L652.6 684.7L653.9 685.0L654.8 684.6L656.8 685.7L658.2 685.1L658.9 683.6L660.7 683.6L661.9 683.2L663.1 684.7L664.7 685.4L666.2 685.7L667.7 684.6L669.2 684.3L670.7 685.6L671.7 687.3L673.6 685.4L675.4 686.6L676.0 686.7L677.1 689.2L678.8 689.3L679.7 689.3L681.8 690.2L683.0 692.2L683.4 692.7L684.4 693.4L686.3 694.5L687.1 695.9L687.8 696.2L689.0 697.0L690.0 698.9L691.5 700.1L692.3 700.9L693.4 702.8L693.8 702.8L694.9 704.1L694.8 705.3L696.2 708.1L696.9 708.7L698.0 710.3L698.3 710.7L699.4 711.6L699.4 713.7L700.8 714.0L701.4 716.9L701.5 716.2L702.5 718.0L703.7 721.0L703.9 721.7L704.8 721.4L705.8 722.6L705.6 724.6L706.2 725.9L707.9 728.0L709.1 728.6L710.8 728.8L711.5 728.9L713.0 730.0L714.5 731.1L715.6 731.6L717.7 730.7L718.5 730.4L719.7 730.7L721.5 732.9L723.2 733.4L724.9 732.6L726.0 731.1L727.3 731.6L729.0 731.1L730.3 731.8L731.7 731.8L732.7 732.6L734.9 732.2L735.7 732.0L738.0 732.9L739.3 730.3L740.9 731.8L741.8 732.3L743.5 731.1" fill="none" stroke="#67a11d" stroke-width="7.2" stroke-linejoin="round" stroke-linecap="butt"/><path d="M109.1 706.0L109.9 704.7L111.5 704.0L113.4 704.8L114.4 704.6L116.4 704.7L117.8 704.7L119.4 703.3L120.3 704.6L122.0 706.1L123.3 705.2L124.8 705.7L126.3 707.1L127.1 705.8L129.4 705.5L130.8 705.8L131.9 707.1L132.8 705.4L134.0 705.6L135.6 704.7L136.6 704.0L138.5 703.9L139.8 701.9L140.6 701.6L141.9 702.1L143.2 701.0L145.3 701.4L145.9 699.1L147.9 700.3L149.0 699.5L150.7 698.2L152.7 696.4L153.5 696.1L154.8 696.0L156.8 696.1L157.7 696.2L159.6 693.9L161.3 695.1L162.1 694.9L164.2 692.5L164.8 693.6L167.1 691.1L168.5 692.3L169.8 691.9L171.6 690.1L173.3 690.9L174.7 689.7L175.1 691.5L175.1 691.5L174.8 693.6L174.7 695.9L175.6 695.7L175.4 698.3L174.9 700.0L175.6 700.2L175.0 701.6L175.7 703.5L175.8 704.1L177.1 704.6L177.9 702.7L177.1 702.8L177.2 701.2L177.2 698.7L177.8 698.9L177.6 696.4L177.2 694.7L177.5 694.5L178.0 693.1L177.9 691.4L177.5 689.2L177.7 687.5L178.2 685.9L177.8 684.7L178.4 684.2L178.0 682.1L178.5 682.2L178.0 679.8L178.5 677.6L177.9 675.8L178.2 676.1L177.8 673.8L179.2 671.4L179.2 671.0L180.4 668.6L180.2 668.0L181.5 667.5L182.1 664.6L182.5 663.3L183.1 662.5L184.2 662.4L185.5 660.4L186.8 658.7L188.0 659.1L189.3 657.7L190.6 655.8L191.8 657.0L192.7 656.5L194.0 655.8L195.7 654.3L196.9 654.8L198.9 652.4L200.6 652.2L201.5 652.2L203.1 652.9L205.0 651.7L205.8 649.8L207.0 650.3L209.0 649.5L210.8 648.9L211.6 648.4L212.7 649.1L214.4 647.4L215.5 646.0L216.7 646.0L218.1 646.7L219.4 644.0L220.2 643.3L221.7 644.2L223.8 642.5L225.1 642.6L226.3 642.5L227.3 640.9L229.4 642.2L230.5 642.4L232.4 640.5L233.1 641.3L235.1 640.6L236.0 641.5L237.4 642.3L239.4 641.3L240.7 641.3L241.9 641.4L244.2 642.3L245.7 642.3L247.4 643.2L248.9 643.0L250.5 642.7L252.4 643.4L253.4 642.9L254.4 641.6L256.1 642.4L257.3 640.9L259.7 641.2L261.0 639.5L262.0 640.5L263.5 640.6L265.1 640.7L266.8 640.8L268.7 639.7L270.1 638.7L271.5 638.8L272.6 640.3L274.4 640.7L275.3 642.5L277.1 643.0L278.5 641.7L280.3 642.8L281.5 642.8L282.7 645.1L284.7 645.6L285.9 646.4L287.6 645.6L289.0 647.1L290.7 646.7L291.7 647.6L292.8 648.3L294.7 649.5L295.5 650.6L296.7 651.3L298.0 650.2L299.4 651.9L300.8 653.5L302.8 652.6L303.7 654.6L304.7 654.3L306.2 657.0L306.4 656.2L307.8 656.7L309.1 659.4L309.8 660.1L311.3 658.9L313.0 660.4L313.6 660.7L315.0 661.4L316.1 662.4L317.8 663.6L318.8 664.4L320.6 665.6L321.4 666.8L323.2 666.6L324.1 665.3L325.0 666.1L326.8 663.4L328.4 664.9L328.7 663.7L330.2 662.7L332.1 661.5L333.0 661.7L333.8 660.5L335.1 660.4L335.9 658.6L336.9 656.4L338.0 655.0L339.5 653.9L340.9 652.7L341.1 653.2L340.9 650.2L341.9 649.4L342.5 647.7L342.3 647.9L342.6 646.6L343.5 643.2L343.5 643.7L343.4 642.1L344.4 640.4L344.6 637.4L346.1 636.3L347.0 636.8L347.6 635.5L348.8 634.6L349.5 634.0L351.0 632.5L352.2 631.4L353.1 629.6L354.3 629.1L355.8 629.7L357.9 628.2L359.6 629.2L361.1 626.6L362.3 627.9L363.6 625.7L365.4 626.8L366.5 627.8L367.6 625.8L369.8 626.4L370.3 626.1L372.8 627.6L373.4 626.1L375.6 627.1L376.7 625.3L377.9 627.1L379.0 625.4L380.5 626.5L381.9 626.0L384.2 625.1L384.4 624.0L386.0 622.5L386.7 621.5L388.5 619.5L389.6 619.3L390.1 617.8L391.4 617.9L392.6 617.6L393.7 615.6L395.3 613.9L395.4 613.3L396.9 611.8L398.1 610.6L399.8 610.8L400.9 610.5L401.8 609.7L402.5 608.6L403.6 607.1L405.1 606.7L405.8 604.6L407.6 604.8L408.9 602.0L409.2 601.0L410.9 601.6L412.0 600.7L412.8 599.0L414.3 598.1L415.1 596.7L415.9 596.0L417.0 593.2L417.9 592.8L419.2 592.6L420.5 591.5L421.9 590.9L423.8 589.5L424.1 590.6L425.8 590.4L427.4 590.7L428.4 590.2L430.4 593.1L430.8 593.0L431.9 593.0L433.5 596.1L433.8 595.6L435.3 598.1L436.1 598.1L436.9 600.3L438.7 601.3L439.0 601.5L441.1 602.7L441.6 602.1L442.4 604.5L443.5 605.6L445.2 605.7L446.6 607.7L447.4 606.5L448.8 607.7L449.9 609.4L451.8 607.7L452.8 608.6L454.5 609.0L455.8 610.6L457.0 610.8L458.6 611.8L460.7 610.6L461.8 610.3L463.0 611.9L464.7 611.4L465.5 611.2L467.5 611.6L468.7 613.0L470.7 613.0L471.2 614.1L472.3 615.4L473.3 614.9L474.8 617.4L475.6 616.4L476.7 617.3L478.1 618.6L479.6 619.5L480.5 620.3L481.9 622.6L482.7 623.7L483.6 624.8L485.0 625.0L486.0 625.0L486.9 627.5L488.2 628.0L489.4 628.6L490.3 628.7L491.6 630.8L492.9 629.9L494.2 631.9L494.7 632.3L496.0 634.6L497.5 634.2L498.3 634.9L499.4 635.9L501.1 638.0L502.1 637.3L503.1 634.4L503.6 633.6L504.9 633.6L506.6 632.9L507.2 631.0L508.9 631.5L509.5 628.6L511.5 628.1L512.6 626.7L513.7 626.3L515.2 625.2L515.6 625.7L517.6 628.5L518.7 628.5L519.6 628.1L520.7 630.8L521.5 630.9L522.6 631.0L523.6 634.0L524.2 633.2L525.5 635.6L526.2 635.5L527.4 636.4L527.5 637.9L528.7 639.6L529.9 641.1L531.4 641.3L531.6 643.1L532.7 642.6L534.0 644.2L535.8 643.8L536.4 646.5L538.0 645.4L539.1 648.1L540.1 647.0L541.6 648.1L542.3 648.3L543.9 648.9L545.1 650.6L546.6 650.9L548.1 650.7L548.9 653.5L550.7 654.2L551.9 653.8L553.4 654.1L554.1 653.4L555.6 655.2L557.2 654.1L558.9 653.5L560.6 655.5L562.1 655.9L562.9 653.3L564.6 654.1L565.5 652.6L566.5 653.2L568.1 652.5L569.2 650.6L570.7 651.1L572.3 649.4L573.6 649.4L575.2 650.1L576.3 648.9L577.5 650.1L579.5 648.4L580.2 648.0L582.6 647.4L583.7 649.3L584.7 650.0L585.8 650.7L586.7 652.2L588.0 650.8L589.9 652.8L591.3 653.6L592.6 652.5L592.8 653.9L594.7 654.6L595.6 657.1L596.3 657.4L598.2 658.8L598.8 659.0L599.8 661.2L601.6 661.1L602.3 661.9L603.8 662.7L605.0 663.5L606.6 663.1L607.7 664.6L609.0 665.7L609.7 666.1L611.9 665.4L613.4 664.9L614.4 666.7L616.3 666.2L617.9 667.3L618.4 666.3L619.9 667.8L621.6 667.4L623.2 667.2L625.1 669.6L626.2 668.9L627.4 669.7L628.9 671.1L631.0 670.8L632.3 669.5L633.0 670.5L634.4 671.1L636.8 672.5L638.2 671.3L638.9 671.1L640.4 671.5L642.1 672.5L643.7 673.6L645.1 673.3L646.7 674.6L648.1 674.4L649.3 674.3L650.3 675.1L652.4 674.4L654.1 676.2L655.5 676.0L656.6 674.4L657.8 675.8L660.0 674.2L660.5 674.8L662.3 675.6L663.5 676.5L665.2 676.8L666.6 675.4L667.9 677.3L669.8 677.2L670.6 676.6L672.8 678.1L674.5 676.2L675.3 678.9L677.0 679.2L678.1 677.1L680.3 678.1L681.4 678.7L682.8 680.4L684.7 680.4L685.4 680.4L686.6 679.6L689.0 679.3L689.8 680.3L691.1 680.8L692.8 680.2L694.4 681.0L695.4 682.6L696.1 682.9L698.3 685.7L699.0 686.6L700.8 687.8L701.0 687.4L701.7 690.5L702.7 690.9L703.5 691.5L703.9 693.9L704.3 695.2L704.8 695.7L706.1 695.9L707.1 697.9L707.5 699.0L709.0 700.1L709.4 700.3L711.3 701.5L711.9 704.3L713.6 705.6L714.0 704.4L716.0 706.3L717.1 705.2L718.6 706.1L720.2 708.4L721.3 706.5L723.2 706.9L724.2 708.1L726.5 708.3L727.3 709.2L728.7 709.5L730.8 709.8L732.4 710.0L733.3 710.5L735.2 710.6L736.4 709.6L738.6 708.0L739.6 708.3L741.9 707.6L743.2 707.8L744.8 707.0" fill="none" stroke="#ff06a0" stroke-width="7.2" stroke-linejoin="round" stroke-linecap="butt"/></g>
<rect x="416.2" y="69.5" width="28.7" height="22.0" fill="none" stroke="#000" stroke-width="4.6"/>
<ellipse cx="517.0" cy="96.4" rx="15.2" ry="17.2" fill="none" stroke="#000" stroke-width="5"/>
<rect x="414.8" y="524.8" width="28.7" height="21.4" fill="none" stroke="#000" stroke-width="4.6"/>
<ellipse cx="523.9" cy="510.3" rx="15.0" ry="17.4" fill="none" stroke="#000" stroke-width="5"/>
<rect x="413.3" y="583.7" width="29.6" height="22.0" fill="none" stroke="#000" stroke-width="4.6"/>
<ellipse cx="519.5" cy="629.6" rx="15.3" ry="16.9" fill="none" stroke="#000" stroke-width="5"/>
<line x1="248.2" y1="98.6" x2="249.2" y2="168.5" stroke="#000" stroke-width="2.1"/>
<path d="M248.0 88.6L237.9 115.8L248.3 108.8L258.9 115.4Z" fill="#000"/>
<path d="M249.4 178.5L259.5 151.3L249.1 158.3L238.5 151.7Z" fill="#000"/>
<line x1="268.3" y1="459.0" x2="268.3" y2="517.0" stroke="#000" stroke-width="2.1"/>
<path d="M268.3 449.0L257.8 476.0L268.3 469.2L278.8 476.0Z" fill="#000"/>
<path d="M268.3 527.0L278.8 500.0L268.3 506.8L257.8 500.0Z" fill="#000"/>
<line x1="261.0" y1="641.8" x2="261.0" y2="677.0" stroke="#000" stroke-width="2.1"/>
<path d="M261.0 631.8L250.5 660.3L261.0 653.2L271.5 660.3Z" fill="#000"/>
<path d="M261.0 687.0L271.5 658.5L261.0 665.6L250.5 658.5Z" fill="#000"/>
<rect x="243.9" y="8.1" width="460.9" height="42.6" fill="#fff" stroke="#000" stroke-width="1.9"/>
<line x1="251.2" y1="29.5" x2="331.4" y2="29.5" stroke="#67a11d" stroke-width="7.5"/>
<line x1="452.4" y1="29.5" x2="532.0" y2="29.5" stroke="#ff06a0" stroke-width="7.5"/>
<text x="0" y="0" font-size="27.5" text-anchor="start" transform="translate(335.6 40.2) scale(1.045 1)" >Original</text>
<text x="0" y="0" font-size="27.3" text-anchor="start" transform="translate(537.6 40.4) scale(1.045 1)" >MoCoSCNet</text>
<text x="0" y="0" font-size="32.0" text-anchor="end" transform="translate(94.0 86.0) scale(1.000 1)" >1</text>
<text x="0" y="0" font-size="32.0" text-anchor="end" transform="translate(95.3 189.3) scale(1.000 1)" >0.8</text>
<text x="0" y="0" font-size="32.0" text-anchor="end" transform="translate(95.3 294.8) scale(1.000 1)" >0.6</text>
<text x="0" y="0" font-size="32.0" text-anchor="end" transform="translate(96.6 346.4) scale(1.000 1)" >4</text>
<text x="0" y="0" font-size="32.0" text-anchor="end" transform="translate(96.6 448.0) scale(1.000 1)" >2</text>
<text x="0" y="0" font-size="32.0" text-anchor="end" transform="translate(96.8 551.4) scale(1.000 1)" >0</text>
<text x="0" y="0" font-size="32.0" text-anchor="end" transform="translate(92.0 600.6) scale(1.000 1)" >1</text>
<text x="0" y="0" font-size="32.0" text-anchor="end" transform="translate(93.4 712.1) scale(1.000 1)" >0.8</text>
<text x="0" y="0" font-size="32.0" text-anchor="end" transform="translate(93.1 823.3) scale(1.000 1)" >0.6</text>
<text x="0" y="0" font-size="32.0" text-anchor="middle" transform="translate(108.6 855.5) scale(1.000 1)" >0</text>
<text x="0" y="0" font-size="32.0" text-anchor="middle" transform="translate(262.4 855.5) scale(1.000 1)" >500</text>
<text x="0" y="0" font-size="32.0" text-anchor="middle" transform="translate(417.8 855.5) scale(1.000 1)" >1000</text>
<text x="0" y="0" font-size="32.0" text-anchor="middle" transform="translate(572.2 855.5) scale(1.000 1)" >1500</text>
<text x="0" y="0" font-size="32.0" text-anchor="middle" transform="translate(727.0 855.5) scale(1.000 1)" >2000</text>
<text x="0" y="0" font-size="32.0" text-anchor="middle" transform="translate(881.6 855.5) scale(1.000 1)" >2500</text>
<text x="0" y="0" font-size="37.0" text-anchor="start" transform="translate(109.6 329.0) scale(1.045 1)" >&#215;</text>
<text x="0" y="0" font-size="31.0" text-anchor="start" transform="translate(135.3 324.3) scale(1.045 1)" >10</text>
<text x="0" y="0" font-size="23.5" text-anchor="start" transform="translate(170.8 309.2) scale(1.110 1)" >-3</text>
<text x="0" y="0" font-size="33.0" text-anchor="middle" transform="translate(495.0 909.0) scale(1.060 1)" >Frames (1-2055)</text>
<text x="0" y="0" font-size="35.0" text-anchor="middle" transform="translate(36.2 176.3) rotate(-90) scale(1.000 1.045)">PCC</text>
<text x="0" y="0" font-size="36.0" text-anchor="middle" transform="translate(64.8 435.0) rotate(-90) scale(1.000 1.045)">MSE</text>
<text x="0" y="0" font-size="35.5" text-anchor="middle" transform="translate(34.2 700.1) rotate(-90) scale(1.000 1.045)">SSI</text>
<text x="0" y="0" font-size="37.0" text-anchor="start" transform="translate(892.8 181.6) scale(1.045 1)" >(a)</text>
<text x="0" y="0" font-size="37.0" text-anchor="start" transform="translate(894.8 465.2) scale(1.045 1)" >(b)</text>
<text x="0" y="0" font-size="37.0" text-anchor="start" transform="translate(894.2 722.2) scale(1.045 1)" >(c)</text>
</svg>
</body></html>
